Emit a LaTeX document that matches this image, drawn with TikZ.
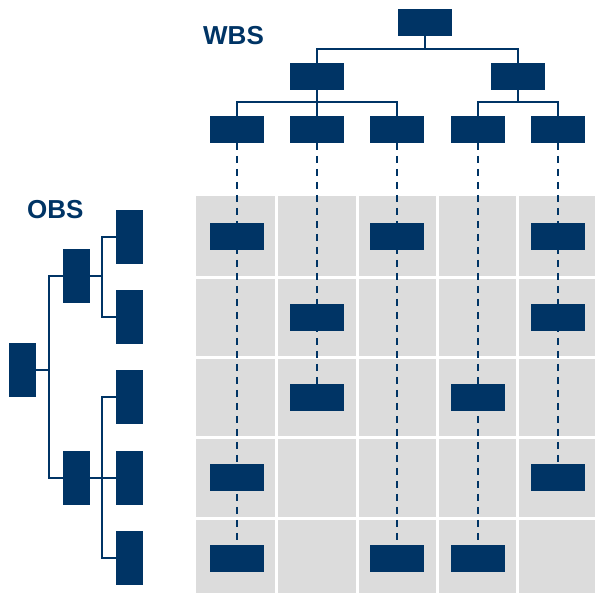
\documentclass[tikz,border=0pt]{standalone}
\usepackage{fontspec}
\setmainfont{Liberation Sans}
\usetikzlibrary{backgrounds}
\definecolor{navy}{RGB}{0,52,101}
\definecolor{cellgray}{RGB}{220,220,220}
\begin{document}
\begin{tikzpicture}[x=1pt,y=-1pt,
  hbox/.style={fill=navy,minimum width=54pt,minimum height=27pt,inner sep=0pt,outer sep=0pt},
  vbox/.style={fill=navy,minimum width=27pt,minimum height=54pt,inner sep=0pt,outer sep=0pt},
  tree/.style={draw=navy,line width=2pt},
  link/.style={draw=navy,line width=2pt,dash pattern=on 7pt off 6pt},
  title/.style={font=\fontsize{26}{26}\selectfont\bfseries,text=navy,inner sep=0pt,anchor=base west}]
\useasboundingbox (0,0) rectangle (595,593);

% grid cells
\begin{pgfonlayer}{background}
\foreach \xa/\xb in {196/275,278/356,359/436,439/516,519/595}
  \foreach \ya/\yb in {196/276,279/356,359/436,439/517,520/593}
    \fill[cellgray] (\xa,\ya) rectangle (\xb,\yb);
\end{pgfonlayer}

% titles
\node[title] (wbs) at (203,45) {WBS};
\node[title] (obs) at (27,219) {OBS};

% WBS tree
\node[hbox] (w0) at (424.5,22.5) {};
\node[hbox] (w1) at (317,76.5) {};
\node[hbox] (w2) at (517.5,76.5) {};
\node[hbox] (wa) at (237,129.5) {};
\node[hbox] (wb) at (317,129.5) {};
\node[hbox] (wc) at (397,129.5) {};
\node[hbox] (wd) at (477.5,129.5) {};
\node[hbox] (we) at (558,129.5) {};
\coordinate (bw0) at (424.5,48.7);
\coordinate (bw1) at (317,102.3);
\coordinate (bw2) at (517.5,102.3);
\draw[tree] (w0.south) -- (bw0);
\draw[tree] (w1.north) |- (bw0) -| (w2.north);
\draw[tree] (w1.south) -- (wb.north);
\draw[tree] (wa.north) |- (bw1) -| (wc.north);
\draw[tree] (w2.south) -- (bw2);
\draw[tree] (wd.north) |- (bw2) -| (we.north);

% OBS tree
\node[vbox] (o0) at (22.5,370) {};
\node[vbox] (o1) at (76,276.5) {};
\node[vbox] (o2) at (76,478) {};
\node[vbox] (oa) at (129.5,237) {};
\node[vbox] (ob) at (129.5,317) {};
\node[vbox] (oc) at (129.5,397) {};
\node[vbox] (od) at (129.5,478) {};
\node[vbox] (oe) at (129.5,558) {};
\coordinate (bo0) at (48.7,370);
\coordinate (bo1) at (101.7,276.5);
\coordinate (bo2) at (101.7,478);
\draw[tree] (o0.east) -- (bo0);
\draw[tree] (o1.west) -| (bo0) |- (o2.west);
\draw[tree] (o1.east) -- (bo1);
\draw[tree] (oa.west) -| (bo1) |- (ob.west);
\draw[tree] (o2.east) -- (od.west);
\draw[tree] (oc.west) -| (bo2) |- (oe.west);

% matrix boxes
\node[hbox] (m11) at (237,236.5) {};
\node[hbox] (m13) at (397,236.5) {};
\node[hbox] (m15) at (558,236.5) {};
\node[hbox] (m22) at (317,317.5) {};
\node[hbox] (m25) at (558,317.5) {};
\node[hbox] (m32) at (317,397.5) {};
\node[hbox] (m34) at (477.5,397.5) {};
\node[hbox] (m41) at (237,477.5) {};
\node[hbox] (m45) at (558,477.5) {};
\node[hbox] (m51) at (237,558.5) {};
\node[hbox] (m53) at (397,558.5) {};
\node[hbox] (m54) at (477.5,558.5) {};

% dashed links
\begin{pgfonlayer}{background}
\draw[link] (wa.south) -- (m51.north);
\draw[link] (wb.south) -- (m32.north);
\draw[link] (wc.south) -- (m53.north);
\draw[link] (wd.south) -- (m54.north);
\draw[link] (we.south) -- (m45.north);
\end{pgfonlayer}
\end{tikzpicture}
\end{document}
